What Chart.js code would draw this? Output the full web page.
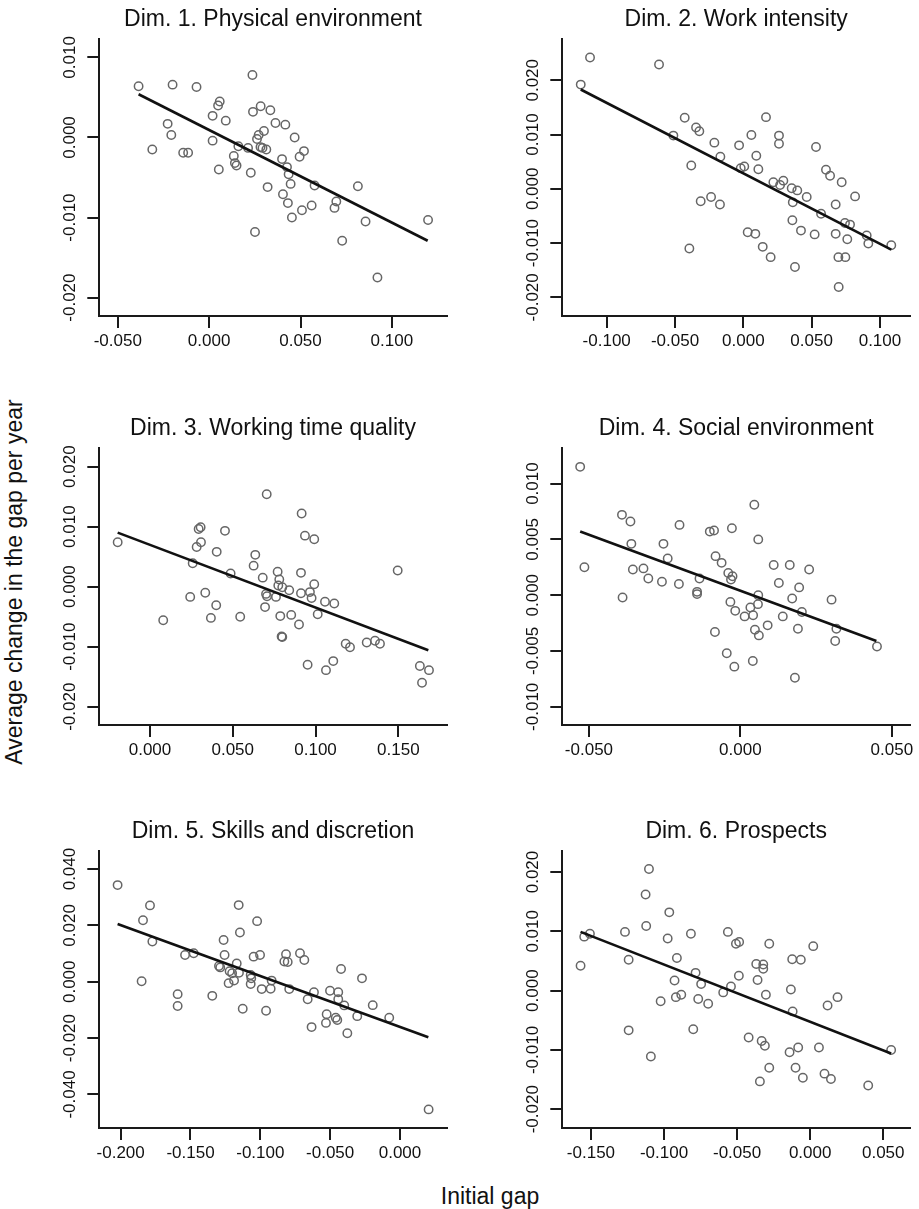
<!DOCTYPE html>
<html>
<head>
<meta charset="utf-8">
<script src="https://cdn.jsdelivr.net/npm/chart.js@4.4.1/dist/chart.umd.min.js"></script>
<style>
html,body{margin:0;padding:0;background:#fff;}
body{width:919px;height:1209px;position:relative;overflow:hidden;font-family:"Liberation Sans",Arial,Helvetica,sans-serif;color:#111;}
.panel{position:absolute;}
.panel canvas{display:block;}
#ytitle{position:absolute;left:14px;top:582px;transform:translate(-50%,-50%) rotate(-90deg);white-space:nowrap;font-size:23px;}
#xtitle{position:absolute;left:490px;top:1196px;transform:translate(-50%,-50%);white-space:nowrap;font-size:23px;}
</style>
</head>
<body>
<div class="panel" style="left:40px;top:0px;"><canvas id="c1" width="420" height="362" style="width:420px;height:362px"></canvas></div>
<div class="panel" style="left:503px;top:0px;"><canvas id="c2" width="416" height="362" style="width:416px;height:362px"></canvas></div>
<div class="panel" style="left:40px;top:409px;"><canvas id="c3" width="420" height="362" style="width:420px;height:362px"></canvas></div>
<div class="panel" style="left:503px;top:409px;"><canvas id="c4" width="416" height="362" style="width:416px;height:362px"></canvas></div>
<div class="panel" style="left:40px;top:812px;"><canvas id="c5" width="420" height="362" style="width:420px;height:362px"></canvas></div>
<div class="panel" style="left:503px;top:812px;"><canvas id="c6" width="416" height="362" style="width:416px;height:362px"></canvas></div>
<div id="ytitle">Average change in the gap per year</div>
<div id="xtitle">Initial gap</div>
<script>
// ---------- Titles ----------
const titles = [
  "Dim. 1. Physical environment",
  "Dim. 2. Work intensity",
  "Dim. 3. Working time quality",
  "Dim. 4. Social environment",
  "Dim. 5. Skills and discretion",
  "Dim. 6. Prospects"
];

// ---------- Dim. 1 ----------
const gap1 = [-0.0386,-0.0200,-0.0069,-0.0311,-0.0227,-0.0207,-0.0142,-0.0115,0.0019,0.0058,0.0049,0.0091,0.0019,0.0053,0.0135,0.0141,0.0150,0.0160,0.0213,0.0228,0.0237,0.0240,0.0251,0.0271,0.0262,0.0282,0.0281,0.0292,0.0313,0.0300,0.0320,0.0335,0.0363,0.0417,0.0468,0.0519,0.0495,0.0399,0.0426,0.0435,0.0446,0.0577,0.0404,0.0431,0.0453,0.0508,0.0561,0.0686,0.0696,0.0814,0.0728,0.0856,0.0921,0.1198];
const change1 = [0.0064,0.0066,0.0063,-0.0015,0.0017,0.0003,-0.0019,-0.0019,0.0027,0.0045,0.0040,0.0021,-0.0004,-0.0040,-0.0023,-0.0032,-0.0035,-0.0011,-0.0013,-0.0044,0.0078,0.0032,-0.0118,0.0003,-0.0002,0.0039,-0.0012,-0.0013,-0.0015,0.0008,-0.0062,0.0034,0.0018,0.0016,0.0000,-0.0017,-0.0024,-0.0027,-0.0037,-0.0046,-0.0058,-0.0060,-0.0071,-0.0082,-0.0100,-0.0091,-0.0085,-0.0088,-0.0080,-0.0061,-0.0129,-0.0105,-0.0175,-0.0103];
const fitGap1 = [-0.0386, 0.1196];
const fitChange1 = [0.0054, -0.0129];
const xTicks1 = [-0.05, 0, 0.05, 0.1];
const yTicks1 = [-0.02, -0.01, 0, 0.01];
const xRange1 = [-0.0601, 0.130];
const yRange1 = [-0.0223, 0.0123];

// ---------- Dim. 2 ----------
const gap2 = [-0.1190,-0.1122,-0.0617,-0.0512,-0.0429,-0.0346,-0.0322,-0.0381,-0.0312,-0.0395,-0.0212,-0.0168,-0.0236,-0.0171,-0.0031,0.0059,0.0166,0.0095,-0.0019,0.0007,0.0110,0.0261,0.0261,0.0532,0.0220,0.0269,0.0293,0.0354,0.0395,0.0464,0.0362,0.0569,0.0359,0.0422,0.0522,0.0032,0.0088,0.0142,0.0200,0.0378,0.0605,0.0635,0.0720,0.0818,0.0676,0.0744,0.0781,0.0676,0.0761,0.0696,0.0747,0.0698,0.0903,0.0915,0.1083];
const change2 = [0.0192,0.0242,0.0229,0.0098,0.0131,0.0113,0.0106,0.0043,-0.0023,-0.0110,0.0085,0.0059,-0.0015,-0.0029,0.0080,0.0099,0.0132,0.0061,0.0038,0.0041,0.0036,0.0098,0.0083,0.0077,0.0012,0.0007,0.0015,0.0001,-0.0003,-0.0015,-0.0025,-0.0046,-0.0058,-0.0077,-0.0084,-0.0080,-0.0083,-0.0107,-0.0126,-0.0144,0.0035,0.0024,0.0012,-0.0014,-0.0029,-0.0063,-0.0066,-0.0083,-0.0093,-0.0126,-0.0126,-0.0181,-0.0086,-0.0101,-0.0104];
const fitGap2 = [-0.1190, 0.1083];
const fitChange2 = [0.0183, -0.0112];
const xTicks2 = [-0.1, -0.05, 0, 0.05, 0.1];
const yTicks2 = [-0.02, -0.01, 0, 0.01, 0.02];
const xRange2 = [-0.1325, 0.122];
const yRange2 = [-0.02344, 0.0276];

// ---------- Dim. 3 ----------
const gap3 = [-0.0195,0.0080,0.0258,0.0243,0.0282,0.0308,0.0294,0.0306,0.0334,0.0400,0.0368,0.0403,0.0453,0.0487,0.0545,0.0636,0.0626,0.0681,0.0695,0.0701,0.0707,0.0705,0.0761,0.0771,0.0781,0.0775,0.0799,0.0841,0.0787,0.0795,0.0799,0.0853,0.0900,0.0916,0.0936,0.0992,0.0912,0.0912,0.0966,0.0976,0.0992,0.1013,0.1057,0.1113,0.0952,0.1063,0.1107,0.1182,0.1208,0.1309,0.1359,0.1389,0.1496,0.1630,0.1685,0.1643];
const change3 = [0.0074,-0.0056,0.0039,-0.0017,0.0066,0.0074,0.0096,0.0099,-0.0010,-0.0031,-0.0052,0.0058,0.0093,0.0022,-0.0050,0.0053,0.0035,0.0015,-0.0034,-0.0012,-0.0016,0.0154,-0.0017,0.0025,0.0012,0.0002,-0.0001,-0.0006,-0.0049,-0.0083,-0.0084,-0.0047,-0.0063,0.0122,0.0085,0.0079,0.0023,-0.0011,-0.0009,-0.0019,0.0004,-0.0046,-0.0025,-0.0028,-0.0130,-0.0139,-0.0124,-0.0095,-0.0101,-0.0093,-0.0090,-0.0095,0.0027,-0.0132,-0.0139,-0.0160];
const fitGap3 = [-0.0195, 0.1681];
const fitChange3 = [0.0090, -0.0106];
const xTicks3 = [0, 0.05, 0.1, 0.15];
const yTicks3 = [-0.02, -0.01, 0, 0.01, 0.02];
const xRange3 = [-0.0306, 0.1792];
const yRange3 = [-0.02304, 0.0231];

// ---------- Dim. 4 ----------
const gap4 = [-0.0529,-0.0515,-0.0391,-0.0363,-0.0389,-0.0360,-0.0355,-0.0320,-0.0304,-0.0259,-0.0254,-0.0240,-0.0203,-0.0201,-0.0143,-0.0143,-0.0135,-0.0101,-0.0087,-0.0028,0.0046,0.0059,-0.0082,-0.0062,-0.0040,-0.0026,-0.0031,-0.0033,-0.0017,0.0014,0.0033,0.0042,0.0059,0.0058,-0.0084,0.0048,0.0061,0.0090,-0.0045,-0.0020,0.0041,0.0110,0.0163,0.0227,0.0127,0.0194,0.0171,0.0203,0.0140,0.0190,0.0180,0.0301,0.0317,0.0313,0.0451];
const change4 = [0.0115,0.0025,0.0072,0.0066,-0.0002,0.0046,0.0023,0.0024,0.0015,0.0012,0.0046,0.0033,0.0010,0.0063,0.0003,0.0001,0.0015,0.0057,0.0058,0.0060,0.0081,0.0050,0.0035,0.0029,0.0020,0.0017,0.0014,-0.0006,-0.0014,-0.0019,-0.0011,-0.0018,0.0000,-0.0008,-0.0033,-0.0031,-0.0036,-0.0027,-0.0052,-0.0064,-0.0059,0.0027,0.0027,0.0023,0.0011,0.0007,-0.0003,-0.0015,-0.0019,-0.0030,-0.0074,-0.0004,-0.0030,-0.0041,-0.0046];
const fitGap4 = [-0.0529, 0.0449];
const fitChange4 = [0.0057, -0.0041];
const xTicks4 = [-0.05, 0, 0.05];
const yTicks4 = [-0.01, -0.005, 0, 0.005, 0.01];
const xRange4 = [-0.0588, 0.056];
const yRange4 = [-0.01163, 0.01319];

// ---------- Dim. 5 ----------
const gap5 = [-0.2022,-0.1850,-0.1840,-0.1790,-0.1773,-0.1592,-0.1592,-0.1539,-0.1477,-0.1344,-0.1296,-0.1287,-0.1256,-0.1263,-0.1220,-0.1202,-0.1227,-0.1188,-0.1169,-0.1153,-0.1155,-0.1146,-0.1126,-0.1069,-0.1065,-0.1069,-0.1048,-0.1002,-0.1023,-0.0990,-0.0959,-0.0919,-0.0926,-0.0816,-0.0828,-0.0804,-0.0793,-0.0716,-0.0685,-0.0616,-0.0661,-0.0633,-0.0501,-0.0442,-0.0442,-0.0399,-0.0422,-0.0525,-0.0530,-0.0460,-0.0449,-0.0377,-0.0306,-0.0272,-0.0195,-0.0077,0.0205];
const change5 = [0.0343,0.0002,0.0218,0.0271,0.0143,-0.0044,-0.0086,0.0095,0.0101,-0.0050,0.0056,0.0051,0.0095,0.0148,0.0037,0.0030,-0.0005,0.0004,0.0065,0.0032,0.0272,0.0175,-0.0096,0.0024,0.0012,-0.0008,0.0089,0.0095,0.0215,-0.0026,-0.0103,0.0004,-0.0025,0.0098,0.0072,0.0070,-0.0026,0.0101,0.0077,-0.0037,-0.0062,-0.0161,-0.0032,-0.0037,-0.0062,-0.0084,0.0045,-0.0115,-0.0146,-0.0128,-0.0136,-0.0183,-0.0122,0.0012,-0.0083,-0.0128,-0.0453];
const fitGap5 = [-0.2022, 0.0203];
const fitChange5 = [0.0205, -0.0197];
const xTicks5 = [-0.2, -0.15, -0.1, -0.05, 0];
const yTicks5 = [-0.04, -0.02, 0, 0.02, 0.04];
const xRange5 = [-0.2153, 0.03345];
const yRange5 = [-0.0519, 0.0464];

// ---------- Dim. 6 ----------
const gap6 = [-0.1571,-0.1546,-0.1507,-0.1267,-0.1242,-0.1242,-0.1122,-0.1126,-0.1103,-0.1090,-0.1023,-0.0964,-0.0975,-0.0912,-0.0928,-0.0919,-0.0882,-0.0816,-0.0784,-0.0746,-0.0766,-0.0800,-0.0698,-0.0595,-0.0542,-0.0488,-0.0563,-0.0508,-0.0486,-0.0421,-0.0369,-0.0321,-0.0321,-0.0360,-0.0303,-0.0280,-0.0332,-0.0310,-0.0280,-0.0344,-0.0123,-0.0064,-0.0132,-0.0120,-0.0141,-0.0082,-0.0100,-0.0050,0.0021,0.0060,0.0119,0.0187,0.0098,0.0142,0.0397,0.0554];
const change6 = [0.0042,0.0091,0.0096,0.0099,0.0052,-0.0067,0.0109,0.0162,0.0205,-0.0111,-0.0018,0.0132,0.0088,0.0055,0.0017,-0.0011,-0.0007,0.0096,0.0030,0.0011,-0.0014,-0.0065,-0.0022,-0.0003,0.0007,0.0025,0.0099,0.0079,0.0082,-0.0079,0.0045,0.0044,0.0037,0.0018,-0.0007,0.0079,-0.0085,-0.0093,-0.0130,-0.0153,0.0053,0.0052,0.0002,-0.0035,-0.0104,-0.0096,-0.0130,-0.0147,0.0075,-0.0096,-0.0025,-0.0011,-0.0140,-0.0149,-0.0160,-0.0100];
const fitGap6 = [-0.1571, 0.0554];
const fitChange6 = [0.0099, -0.0106];
const xTicks6 = [-0.15, -0.1, -0.05, 0, 0.05];
const yTicks6 = [-0.02, -0.01, 0, 0.01, 0.02];
const xRange6 = [-0.1696, 0.0683];
const yRange6 = [-0.02316, 0.02354];

// ---------- Rendering ----------
const FONT = '"Liberation Sans", Arial, Helvetica, sans-serif';
const AXIS = '#1a1a1a';
const POINT = '#666666';

function fmt(v) { return (Math.abs(v) < 1e-12 ? 0 : v).toFixed(3); }
function pairs(xs, ys) { return xs.map((x, i) => ({x: x, y: ys[i]})); }

function makePanel(id, title, gap, change, fitGap, fitChange, xTicks, yTicks, xRange, yRange, rightPad) {
  new Chart(document.getElementById(id), {
    type: 'scatter',
    data: {
      datasets: [
        {
          data: pairs(fitGap, fitChange),
          showLine: true,
          borderColor: '#111',
          borderWidth: 2.6,
          pointRadius: 0,
          pointHoverRadius: 0,
          fill: false,
          clip: false
        },
        {
          data: pairs(gap, change),
          showLine: false,
          pointStyle: 'circle',
          pointRadius: 4.2,
          pointHoverRadius: 4.2,
          pointBorderWidth: 1.5,
          pointBorderColor: POINT,
          pointBackgroundColor: 'rgba(0,0,0,0)',
          clip: false
        }
      ]
    },
    options: {
      responsive: false,
      animation: false,
      events: [],
      layout: { padding: { left: 0, right: rightPad, top: 0, bottom: 0 } },
      plugins: {
        legend: { display: false },
        tooltip: { enabled: false },
        title: {
          display: true,
          text: title,
          fullSize: false,
          color: '#111',
          font: { family: FONT, size: 23, weight: 'normal', lineHeight: 1.2 },
          padding: { top: 6, bottom: 5.4 }
        }
      },
      scales: {
        x: {
          type: 'linear',
          position: 'bottom',
          min: xRange[0],
          max: xRange[1],
          afterBuildTicks: (s) => { s.ticks = xTicks.map(v => ({ value: v })); },
          afterFit: (s) => { s.height = 46; },
          grid: { display: true, drawOnChartArea: false, drawTicks: true, tickLength: 12, color: AXIS, lineWidth: 2 },
          border: { display: true, color: AXIS, width: 2 },
          ticks: {
            autoSkip: false, maxRotation: 0, minRotation: 0, padding: 3,
            color: '#111', font: { family: FONT, size: 17 },
            callback: (v) => fmt(v)
          }
        },
        y: {
          type: 'linear',
          position: 'left',
          min: yRange[0],
          max: yRange[1],
          afterBuildTicks: (s) => { s.ticks = yTicks.map(v => ({ value: v })); },
          afterFit: (s) => { s.width = 59.3; },
          grid: { display: true, drawOnChartArea: false, drawTicks: true, tickLength: 12, color: AXIS, lineWidth: 2 },
          border: { display: true, color: AXIS, width: 2 },
          ticks: {
            autoSkip: false, minRotation: 90, maxRotation: 90,
            crossAlign: 'center', align: 'center', padding: -6.8,
            color: '#111', font: { family: FONT, size: 17 },
            callback: (v) => fmt(v)
          }
        }
      }
    }
  });
}

makePanel('c1', titles[0], gap1, change1, fitGap1, fitChange1, xTicks1, yTicks1, xRange1, yRange1, 13.3);
makePanel('c2', titles[1], gap2, change2, fitGap2, fitChange2, xTicks2, yTicks2, xRange2, yRange2, 9);
makePanel('c3', titles[2], gap3, change3, fitGap3, fitChange3, xTicks3, yTicks3, xRange3, yRange3, 13.3);
makePanel('c4', titles[3], gap4, change4, fitGap4, fitChange4, xTicks4, yTicks4, xRange4, yRange4, 9);
makePanel('c5', titles[4], gap5, change5, fitGap5, fitChange5, xTicks5, yTicks5, xRange5, yRange5, 13.3);
makePanel('c6', titles[5], gap6, change6, fitGap6, fitChange6, xTicks6, yTicks6, xRange6, yRange6, 9);
</script>
</body>
</html>
